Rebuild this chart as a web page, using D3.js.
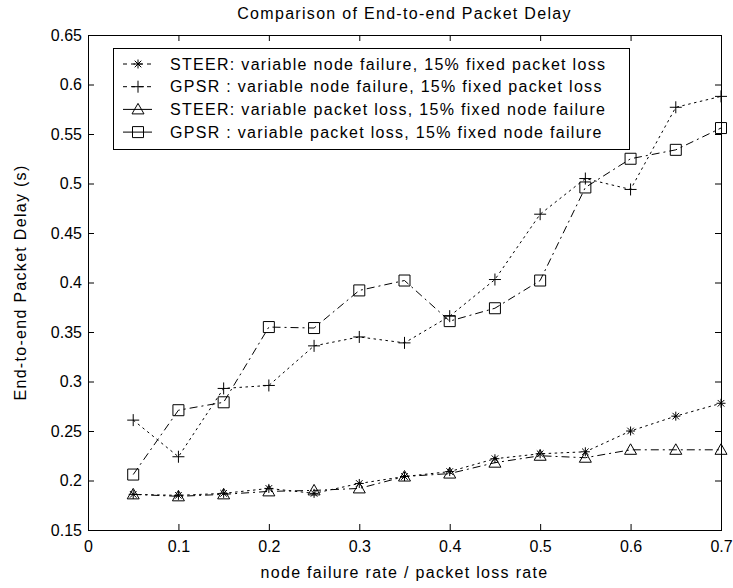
<!DOCTYPE html>
<html>
<head>
<meta charset="utf-8">
<script src="https://cdn.jsdelivr.net/npm/d3@7"></script>
<style>
  html, body { margin: 0; padding: 0; background: #fff; }
  svg { display: block; }
  text { font-family: "Liberation Sans", Arial, sans-serif; fill: #000; }
</style>
</head>
<body>
<svg id="chart" width="733" height="588"></svg>
<script>
// Failure / loss rates on the x axis
const rates = [0.05, 0.1, 0.15, 0.2, 0.25, 0.3, 0.35, 0.4, 0.45, 0.5, 0.55, 0.6, 0.65, 0.7];

// Mean end-to-end delay (s) for each configuration
const steerNodeFailure = [0.186, 0.185, 0.187, 0.192, 0.187, 0.197, 0.204, 0.209, 0.222, 0.227, 0.229, 0.250, 0.265, 0.278];
const gpsrNodeFailure  = [0.261, 0.224, 0.293, 0.296, 0.336, 0.345, 0.339, 0.366, 0.403, 0.469, 0.505, 0.494, 0.577, 0.588];
const steerPacketLoss  = [0.186, 0.184, 0.186, 0.189, 0.190, 0.192, 0.204, 0.207, 0.218, 0.225, 0.223, 0.231, 0.231, 0.231];
const gpsrPacketLoss   = [0.206, 0.271, 0.279, 0.355, 0.354, 0.392, 0.402, 0.361, 0.374, 0.402, 0.496, 0.525, 0.534, 0.556];

const seriesNames = [
  "STEER: variable node failure, 15% fixed packet loss",
  "GPSR : variable node failure, 15% fixed packet loss",
  "STEER: variable packet loss, 15% fixed node failure",
  "GPSR : variable packet loss, 15% fixed node failure"
];

const xTicks = [0, 0.1, 0.2, 0.3, 0.4, 0.5, 0.6, 0.7];
const yTicks = [0.15, 0.2, 0.25, 0.3, 0.35, 0.4, 0.45, 0.5, 0.55, 0.6, 0.65];

const titleText = "Comparison of End-to-end Packet Delay";
const xLabel = "node failure rate / packet loss rate";
const yLabel = "End-to-end Packet Delay (s)";

const series = [
  { name: seriesNames[0], values: steerNodeFailure, marker: "asterisk", dash: "2.5,3.5" },
  { name: seriesNames[1], values: gpsrNodeFailure,  marker: "plus",     dash: "2.5,3.5" },
  { name: seriesNames[2], values: steerPacketLoss,  marker: "triangle", dash: "8,4,2,4" },
  { name: seriesNames[3], values: gpsrPacketLoss,   marker: "square",   dash: "8,4,2,4" }
];

const svg = d3.select("#chart");
const W = 733, H = 588;
const plot = { left: 88, right: 721, top: 35, bottom: 530 };
const fontSize = 16;
const spacing = "1.3px";

svg.append("rect").attr("width", W).attr("height", H).attr("fill", "#fff");

const x = d3.scaleLinear().domain([0, 0.7]).range([plot.left, plot.right]);
const y = d3.scaleLinear().domain([0.15, 0.65]).range([plot.bottom, plot.top]);

const fmt = d => String(+d.toFixed(2));
const tickLen = 6;

const styleText = sel => sel
  .style("font-size", fontSize + "px")
  .style("letter-spacing", spacing);

// Axes: bottom & left carry labels, top & right mirror the inward ticks
const axisStyle = g => {
  g.select(".domain").remove();
  g.selectAll(".tick line").attr("stroke", "#000").attr("stroke-width", 1);
  g.selectAll(".tick text").attr("fill", "#000").style("font-size", fontSize + "px");
};

svg.append("g")
  .attr("transform", `translate(0,${plot.bottom})`)
  .call(d3.axisBottom(x).tickValues(xTicks).tickFormat(fmt).tickSizeInner(-tickLen).tickSizeOuter(0).tickPadding(11))
  .call(axisStyle)
  .call(g => g.selectAll(".tick text").attr("dy", "0.71em"));

svg.append("g")
  .attr("transform", `translate(0,${plot.top})`)
  .call(d3.axisTop(x).tickValues(xTicks).tickFormat("").tickSizeInner(-tickLen).tickSizeOuter(0))
  .call(axisStyle);

svg.append("g")
  .attr("transform", `translate(${plot.left},0)`)
  .call(d3.axisLeft(y).tickValues(yTicks).tickFormat(fmt).tickSizeInner(-tickLen).tickSizeOuter(0).tickPadding(6))
  .call(axisStyle);

svg.append("g")
  .attr("transform", `translate(${plot.right},0)`)
  .call(d3.axisRight(y).tickValues(yTicks).tickFormat("").tickSizeInner(-tickLen).tickSizeOuter(0))
  .call(axisStyle);

// Plot frame
svg.append("rect")
  .attr("x", plot.left + 0.5).attr("y", plot.top + 0.5)
  .attr("width", plot.right - plot.left).attr("height", plot.bottom - plot.top)
  .attr("fill", "none").attr("stroke", "#000").attr("stroke-width", 1);

// Titles
svg.append("text")
  .attr("x", (plot.left + plot.right) / 2).attr("y", 19)
  .attr("text-anchor", "middle").call(styleText)
  .text(titleText);

svg.append("text")
  .attr("x", (plot.left + plot.right) / 2).attr("y", 578)
  .attr("text-anchor", "middle").call(styleText)
  .text(xLabel);

svg.append("text")
  .attr("transform", `translate(26,${(plot.top + plot.bottom) / 2}) rotate(-90)`)
  .attr("text-anchor", "middle").call(styleText)
  .text(yLabel);

// Marker path builders (unfilled, stroked)
function markerPath(type, cx, cy) {
  const p = d3.path();
  if (type === "plus") {
    const r = 6;
    p.moveTo(cx - r, cy); p.lineTo(cx + r, cy);
    p.moveTo(cx, cy - r); p.lineTo(cx, cy + r);
  } else if (type === "asterisk") {
    const r = 4.5, d = 3.3;
    p.moveTo(cx - r, cy); p.lineTo(cx + r, cy);
    p.moveTo(cx, cy - r); p.lineTo(cx, cy + r);
    p.moveTo(cx - d, cy - d); p.lineTo(cx + d, cy + d);
    p.moveTo(cx - d, cy + d); p.lineTo(cx + d, cy - d);
  } else if (type === "triangle") {
    const r = 6;
    p.moveTo(cx, cy - r); p.lineTo(cx + r, cy + r * 0.75);
    p.lineTo(cx - r, cy + r * 0.75); p.closePath();
  } else if (type === "square") {
    const r = 5.5;
    p.rect(cx - r, cy - r, 2 * r, 2 * r);
  }
  return p.toString();
}

const line = d3.line().x(d => x(d[0])).y(d => y(d[1]));

const plotArea = svg.append("g");

series.forEach(s => {
  const pts = rates.map((r, i) => [r, s.values[i]]);
  plotArea.append("path")
    .datum(pts)
    .attr("d", line)
    .attr("fill", "none")
    .attr("stroke", "#000")
    .attr("stroke-width", 1)
    .attr("stroke-dasharray", s.dash);
  plotArea.append("g").selectAll("path")
    .data(pts)
    .join("path")
    .attr("d", d => markerPath(s.marker, x(d[0]), y(d[1])))
    .attr("fill", "none")
    .attr("stroke", "#000")
    .attr("stroke-width", 1);
});

// Legend
const legend = { x: 113, y: 48, w: 516, h: 101, rowH: 22.7, firstRow: 64 };
const lg = svg.append("g");
lg.append("rect")
  .attr("x", legend.x + 0.5).attr("y", legend.y + 0.5)
  .attr("width", legend.w).attr("height", legend.h)
  .attr("fill", "#fff").attr("stroke", "#000");

series.forEach((s, i) => {
  const cy = legend.firstRow + i * legend.rowH;
  lg.append("line")
    .attr("x1", 123).attr("x2", 152).attr("y1", cy).attr("y2", cy)
    .attr("stroke", "#000").attr("stroke-dasharray", s.dash === "8,4,2,4" ? null : "4,4");
  lg.append("path")
    .attr("d", markerPath(s.marker, 138, cy))
    .attr("fill", "none").attr("stroke", "#000");
  lg.append("text")
    .attr("x", 170).attr("y", cy).attr("dy", "0.36em")
    .call(styleText)
    .text(s.name);
});
</script>
</body>
</html>
